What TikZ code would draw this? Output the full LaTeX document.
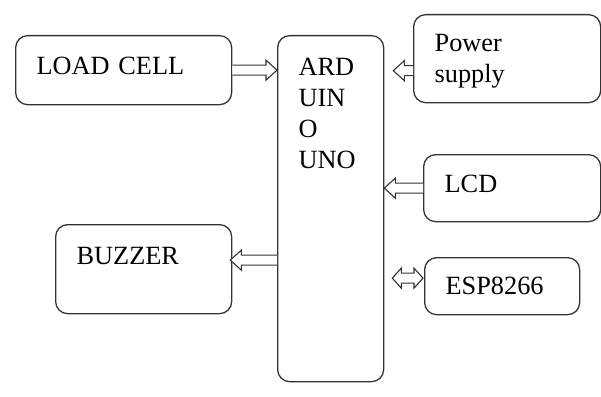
\documentclass[tikz,border=0pt]{standalone}
\usepackage{fontspec}
\setmainfont{Liberation Serif}
\usetikzlibrary{arrows.meta,calc}
\definecolor{boxline}{HTML}{333333}
\tikzset{
  block/.style={
    draw=boxline,
    line width=1.3pt,
    rounded corners=12pt,
    fill=white,
    anchor=north west,
    align=left,
    inner xsep=21pt,
    inner ysep=0pt,
    font=\fontsize{26.3}{31}\selectfont
  },
  % hollow block arrow, head at the target
  busarrow/.style={
    draw=boxline,
    line width=1.1pt,
    fill=white,
    to path={
      let \p1=(\tikztostart), \p2=(\tikztotarget),
          \n1={ifthenelse(\x2>\x1,1,-1)*11}
      in (\x1,\y1+5pt) -- (\x2-\n1*1pt,\y1+5pt) -- (\x2-\n1*1pt,\y1+10pt)
         -- (\x2,\y1) -- (\x2-\n1*1pt,\y1-10pt) -- (\x2-\n1*1pt,\y1-5pt)
         -- (\x1,\y1-5pt)
    }
  },
  % hollow block arrow, heads at both ends
  busboth/.style={
    draw=boxline,
    line width=1.1pt,
    fill=white,
    to path={
      let \p1=(\tikztostart), \p2=(\tikztotarget),
          \n1={ifthenelse(\x2>\x1,1,-1)*9}
      in (\x1,\y1) -- (\x1+\n1*1pt,\y1+10pt) -- (\x1+\n1*1pt,\y1+5pt)
         -- (\x2-\n1*1pt,\y1+5pt) -- (\x2-\n1*1pt,\y1+10pt)
         -- (\x2,\y1) -- (\x2-\n1*1pt,\y1-10pt) -- (\x2-\n1*1pt,\y1-5pt)
         -- (\x1+\n1*1pt,\y1-5pt) -- (\x1+\n1*1pt,\y1-10pt) -- cycle
    }
  }
}

\begin{document}
\begin{tikzpicture}[x=1pt,y=-1pt]
\useasboundingbox (0,0) rectangle (601,396);

\node[block, text width=174pt, minimum height=69pt, text depth=8pt] (load) at (15,35) {LOAD CELL};
\node[block, text width=64pt, minimum height=346pt, text depth=283pt] (ard) at (277,35) {ARD\\UIN\\O\\UNO};
\node[block, text width=145pt, minimum height=88pt, text height=23pt] (power) at (413,14) {Power\\supply};
\node[block, text width=135pt, minimum height=67pt, text depth=8pt] (lcd) at (423,154) {LCD};
\node[block, text width=113pt, minimum height=57pt] (esp) at (424,257) {ESP8266};
\node[block, text width=134pt, minimum height=89pt, text depth=26pt] (buzzer) at (55,224) {BUZZER};

\draw[busarrow] (load.east) to (load.east -| ard.west);
\draw[busarrow] ($(power.west)+(0,-12pt)$) to ($(power.west -| ard.east)+(9pt,-12pt)$);
\draw[busarrow] (lcd.west) to (lcd.west -| ard.east);
\draw[busboth] ($(esp.west)+(-1pt,8pt)$) to ($(esp.west -| ard.east)+(8pt,8pt)$);
\draw[busarrow] ($(buzzer.east -| ard.west)+(0,9pt)$) to ($(buzzer.east)+(-2pt,9pt)$);

\end{tikzpicture}
\end{document}
